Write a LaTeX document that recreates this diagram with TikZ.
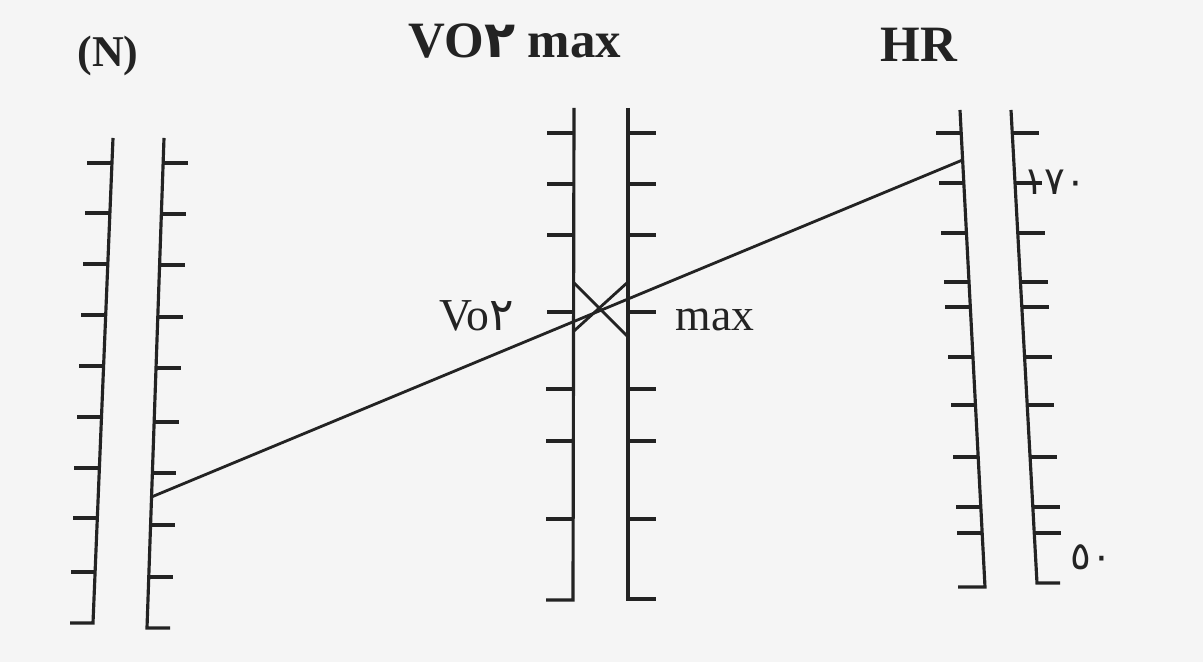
\documentclass[tikz,border=0pt]{standalone}
\usepackage{fontspec}
\setmainfont{Liberation Serif}
\newfontfamily\arabicfont[Script=Arabic]{DejaVu Sans}
\usepackage{tikz}
\usetikzlibrary{positioning}

\definecolor{paper}{RGB}{245,245,245}
\definecolor{ink}{RGB}{35,35,35}

\tikzset{
  scaleline/.style={draw=ink,line width=0.9pt},
  scaletick/.style={draw=ink,line width=0.9pt},
  readline/.style={draw=ink,line width=0.8pt},
  headtext/.style={text=ink,font=\fontsize{14.5}{17}\selectfont\bfseries,anchor=base,inner sep=0pt},
  marktext/.style={text=ink,font=\fontsize{13}{15}\selectfont,inner sep=0pt},
  numtext/.style={text=ink,font=\arabicfont\fontsize{11}{13}\selectfont,anchor=west,inner sep=0pt}
}

\begin{document}
\begin{tikzpicture}[x=1cm,y=1cm]
\fill[paper] (0,0) rectangle (12.03,6.62);
\useasboundingbox (0,0) rectangle (12.03,6.62);
% headings
\node[headtext,font=\fontsize{12.5}{15}\selectfont\bfseries] (nhead) at (1.08,5.95) {(N)};
\node[headtext] (vohead) at (5.15,6.04) {VO{\arabicfont ٢} max};
\node[headtext] (hrhead) at (9.19,6.00) {HR};
% (N) scale, left side
\draw[scaleline] (1.13,5.24) -- (0.93,0.39) -- (0.70,0.39);
\draw[scaletick] (1.120,4.99) -- ++(-0.25,0) (1.099,4.49) -- ++(-0.25,0)
  (1.078,3.98) -- ++(-0.25,0) (1.057,3.47) -- ++(-0.25,0)
  (1.036,2.96) -- ++(-0.25,0) (1.015,2.45) -- ++(-0.25,0)
  (0.994,1.94) -- ++(-0.25,0) (0.973,1.44) -- ++(-0.24,0)
  (0.951,0.90) -- ++(-0.24,0);
% (N) scale, right side
\draw[scaleline] (1.64,5.24) -- (1.47,0.34) -- (1.70,0.34);
\draw[scaletick] (1.631,4.99) -- ++(0.25,0) (1.614,4.48) -- ++(0.25,0)
  (1.596,3.97) -- ++(0.25,0) (1.578,3.45) -- ++(0.25,0)
  (1.560,2.94) -- ++(0.25,0) (1.541,2.40) -- ++(0.25,0)
  (1.524,1.89) -- ++(0.24,0) (1.506,1.37) -- ++(0.24,0)
  (1.488,0.85) -- ++(0.24,0);
% VO2 max scale, left side
\draw[scaleline] (5.74,5.54) -- (5.73,0.62) -- (5.46,0.62);
\draw[scaletick] (5.74,5.29) -- ++(-0.27,0) (5.74,4.78) -- ++(-0.27,0)
  (5.74,4.27) -- ++(-0.27,0) (5.74,3.50) -- ++(-0.27,0)
  (5.73,2.73) -- ++(-0.27,0) (5.73,2.21) -- ++(-0.27,0)
  (5.73,1.43) -- ++(-0.27,0);
% VO2 max scale, right side
\draw[scaleline] (6.28,5.54) -- (6.28,0.63) -- (6.56,0.63);
\draw[scaletick] (6.28,5.29) -- ++(0.28,0) (6.28,4.78) -- ++(0.28,0)
  (6.28,4.27) -- ++(0.28,0) (6.28,3.50) -- ++(0.28,0)
  (6.28,2.73) -- ++(0.28,0) (6.28,2.21) -- ++(0.28,0)
  (6.28,1.43) -- ++(0.28,0);
% cross mark
\draw[readline] (5.74,3.79) -- (6.28,3.25);
\draw[readline] (5.74,3.31) -- (6.28,3.80);
\node[marktext,anchor=base east] (vomark) at (5.15,3.31) {Vo{\arabicfont ٢}};
\node[marktext,anchor=base west] (maxmark) at (6.75,3.31) {max};
% HR scale, left side
\draw[scaleline] (9.60,5.52) -- (9.85,0.75) -- (9.58,0.75);
\draw[scaletick] (9.612,5.29) -- ++(-0.25,0) (9.638,4.79) -- ++(-0.25,0)
  (9.664,4.29) -- ++(-0.25,0) (9.690,3.80) -- ++(-0.25,0)
  (9.703,3.55) -- ++(-0.25,0) (9.729,3.05) -- ++(-0.25,0)
  (9.755,2.57) -- ++(-0.25,0) (9.782,2.05) -- ++(-0.25,0)
  (9.808,1.55) -- ++(-0.25,0) (9.822,1.29) -- ++(-0.25,0);
% HR scale, right side
\draw[scaleline] (10.11,5.52) -- (10.37,0.79) -- (10.60,0.79);
\draw[scaletick] (10.123,5.29) -- ++(0.27,0) (10.150,4.79) -- ++(0.27,0)
  (10.178,4.29) -- ++(0.27,0) (10.205,3.80) -- ++(0.27,0)
  (10.218,3.55) -- ++(0.27,0) (10.246,3.05) -- ++(0.27,0)
  (10.272,2.57) -- ++(0.27,0) (10.301,2.05) -- ++(0.27,0)
  (10.328,1.55) -- ++(0.27,0) (10.343,1.29) -- ++(0.27,0);
\node[numtext] (hrtop) at (10.23,4.80) {١٧٠};
\node[numtext] (hrbottom) at (10.70,1.05) {٥٠};
% reading line
\coordinate (nstart) at (1.515,1.65);
\coordinate (hrend) at (9.626,5.02);
\draw[readline] (nstart) -- (hrend);
\end{tikzpicture}
\end{document}
